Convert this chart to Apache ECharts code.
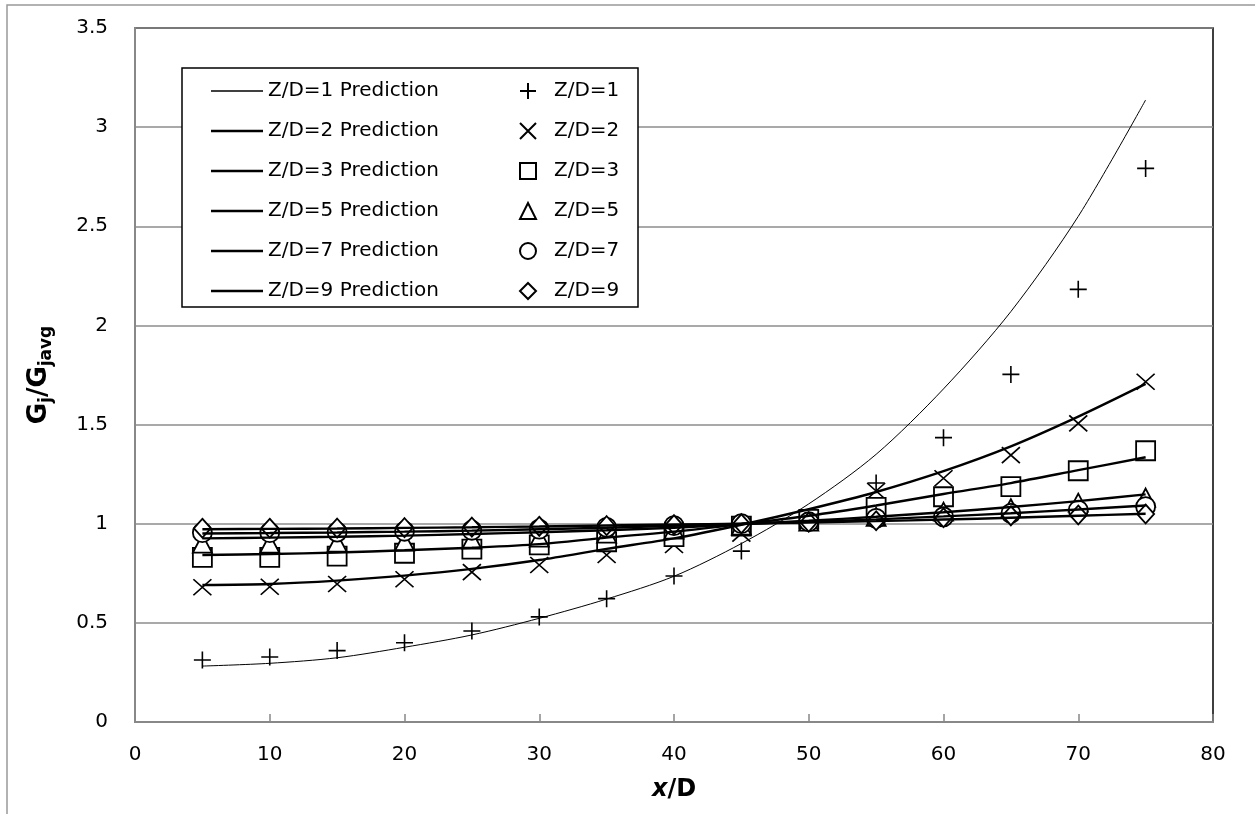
<!DOCTYPE html>
<html>
<head>
<meta charset="utf-8">
<script src="https://cdn.jsdelivr.net/npm/echarts@6/dist/echarts.min.js"></script>
<style>
html,body{margin:0;padding:0;background:#fff;}
#chart{width:1255px;height:814px;}
</style>
</head>
<body>
<div id="chart"></div>
<script>
// ---- data ----
const xValues = [5,10,15,20,25,30,35,40,45,50,55,60,65,70,75];
const yTicks = ['0','0.5','1','1.5','2','2.5','3','3.5'];
const xTicks = ['0','10','20','30','40','50','60','70','80'];

const pred1 = [0.282,0.296,0.324,0.377,0.439,0.523,0.620,0.735,0.900,1.100,1.350,1.680,2.070,2.550,3.137];
const pred2 = [0.691,0.696,0.713,0.738,0.772,0.817,0.873,0.926,0.995,1.073,1.160,1.265,1.390,1.540,1.705];
const pred3 = [0.842,0.847,0.855,0.866,0.879,0.897,0.930,0.960,0.998,1.040,1.092,1.150,1.205,1.270,1.335];
const pred5 = [0.926,0.930,0.934,0.940,0.948,0.957,0.967,0.980,0.998,1.015,1.035,1.058,1.084,1.114,1.148];
const pred7 = [0.951,0.953,0.956,0.960,0.965,0.972,0.980,0.990,1.000,1.010,1.022,1.037,1.053,1.072,1.092];
const pred9 = [0.972,0.974,0.976,0.979,0.982,0.986,0.991,0.996,1.000,1.006,1.013,1.021,1.030,1.040,1.050];

const meas1 = [0.313,0.328,0.360,0.400,0.459,0.530,0.622,0.736,0.862,1.010,1.205,1.434,1.753,2.182,2.792];
const meas2 = [0.680,0.682,0.696,0.720,0.756,0.792,0.842,0.893,0.950,1.010,1.165,1.229,1.346,1.506,1.716];
const meas3 = [0.830,0.830,0.837,0.851,0.872,0.893,0.909,0.935,0.988,1.022,1.082,1.136,1.187,1.267,1.368];
const meas5 = [0.900,0.900,0.905,0.910,0.920,0.930,0.950,0.970,0.990,1.010,1.035,1.061,1.078,1.106,1.132];
const meas7 = [0.955,0.955,0.958,0.962,0.967,0.973,0.982,0.990,1.000,1.010,1.027,1.035,1.052,1.069,1.086];
const meas9 = [0.977,0.977,0.978,0.980,0.983,0.987,0.990,0.995,1.000,1.008,1.015,1.030,1.040,1.044,1.049];

const predNames = ['Z/D=1 Prediction','Z/D=2 Prediction','Z/D=3 Prediction','Z/D=5 Prediction','Z/D=7 Prediction','Z/D=9 Prediction'];
const measNames = ['Z/D=1','Z/D=2','Z/D=3','Z/D=5','Z/D=7','Z/D=9'];

// ---- build ----
const FONT = 'DejaVu Sans';
const pair = arr => xValues.map((x,i)=>[x,arr[i]]);
const predArrays = [pred1,pred2,pred3,pred5,pred7,pred9];
const measArrays = [meas1,meas2,meas3,meas5,meas7,meas9];
const symbols = [
  'path://M10,0L10,20M0,10L20,10',
  'path://M0,0L20,20M20,0L0,20',
  'rect',
  'triangle',
  'circle',
  'diamond'
];
const openSym = [true,true,false,false,false,false];
const symSizes = [[17,17],[18,16],[19,19],[19,18],[19,19],[17,19]];

const series = [];
for (let k=0;k<6;k++){
  series.push({
    name: predNames[k], type:'line', data: pair(predArrays[k]),
    symbol:'none', smooth: 0.3,
    lineStyle:{color:'#000', width: k===0 ? 1 : 2.4},
    itemStyle:{color:'#000'},
    emphasis:{disabled:true}, animation:false
  });
  series.push({
    name: measNames[k], type:'scatter', data: pair(measArrays[k]),
    symbol: symbols[k], symbolSize: symSizes[k], symbolKeepAspect:false,
    itemStyle: openSym[k]
      ? {color:'rgba(0,0,0,0)', borderColor:'#000', borderWidth:1.6, opacity:1}
      : {color:'#fff', borderColor:'#000', borderWidth:1.8, opacity:1},
    emphasis:{disabled:true}, animation:false
  });
}

const lineIcon = w => 'path://M0,0h52v' + w + 'h-52z';
const predLegendData = predNames.map((n,i)=>({name:n, icon: lineIcon(i===0 ? 1.3 : 2.4), itemStyle:{color:'#000', borderWidth:0}}));

const chart = echarts.init(document.getElementById('chart'), null, {renderer:'canvas'});
chart.setOption({
  backgroundColor:'#fff',
  animation:false,
  textStyle:{fontFamily:FONT},
  grid:{left:135, top:28, right:42, bottom:92, show:true, borderColor:'#000', borderWidth:1.5, backgroundColor:'transparent'},
  xAxis:{
    type:'value', min:0, max:80, interval:10,
    axisLine:{show:true, onZero:false, lineStyle:{color:'#888', width:2}},
    axisTick:{show:true, inside:true, length:8, lineStyle:{color:'#888', width:1.5}},
    splitLine:{show:false},
    axisLabel:{color:'#000', fontSize:20, fontFamily:FONT, margin:23,
      formatter: v => xTicks[Math.round(v/10)] },
    name:'{i|x}{b|/D}', nameLocation:'middle', nameGap:56,
    nameTextStyle:{rich:{
      i:{fontSize:24, fontWeight:'bold', fontStyle:'italic', fontFamily:FONT, color:'#000'},
      b:{fontSize:24, fontWeight:'bold', fontFamily:FONT, color:'#000'}
    }}
  },
  yAxis:{
    type:'value', min:0, max:3.5, interval:0.5,
    axisLine:{show:true, onZero:false, lineStyle:{color:'#888', width:2}},
    axisTick:{show:false},
    splitLine:{show:true, lineStyle:{color:'#8c8c8c', width:1.5}},
    axisLabel:{color:'#000', fontSize:20, fontFamily:FONT, margin:27,
      formatter: v => yTicks[Math.round(v*2)] },
    name:'{b|G}{s|j}{b|/G}{s|javg}', nameLocation:'middle', nameGap:80, nameRotate:90,
    nameTextStyle:{rich:{
      b:{fontSize:26, fontWeight:'bold', fontFamily:FONT, color:'#000'},
      s:{fontSize:17, fontWeight:'bold', fontFamily:FONT, color:'#000', padding:[14,0,0,0]}
    }}
  },
  legend:[
    {
      data: predLegendData, orient:'vertical', left:206, top:76,
      itemWidth:52, itemHeight:20, itemGap:20, symbolKeepAspect:true,
      textStyle:{fontSize:20, fontFamily:FONT, color:'#000', lineHeight:20},
      selectedMode:false, z:5
    },
    {
      data: measNames, orient:'vertical', left:514, top:76,
      itemWidth:16, itemHeight:16, itemGap:20, symbolKeepAspect:true,
      textStyle:{fontSize:20, fontFamily:FONT, color:'#000', lineHeight:20, padding:[0,0,0,13]},
      selectedMode:false, z:5
    }
  ],
  graphic:[
    {type:'rect', shape:{x:182, y:68, width:456, height:239}, style:{fill:'#fff', stroke:'#000', lineWidth:1.5}, z:3, silent:true},
    {type:'polyline', shape:{points:[[7,814],[7,5],[1255,5]]}, style:{fill:null, stroke:'#999', lineWidth:1.5}, z:3, silent:true}
  ],
  series: series
});
</script>
</body>
</html>
